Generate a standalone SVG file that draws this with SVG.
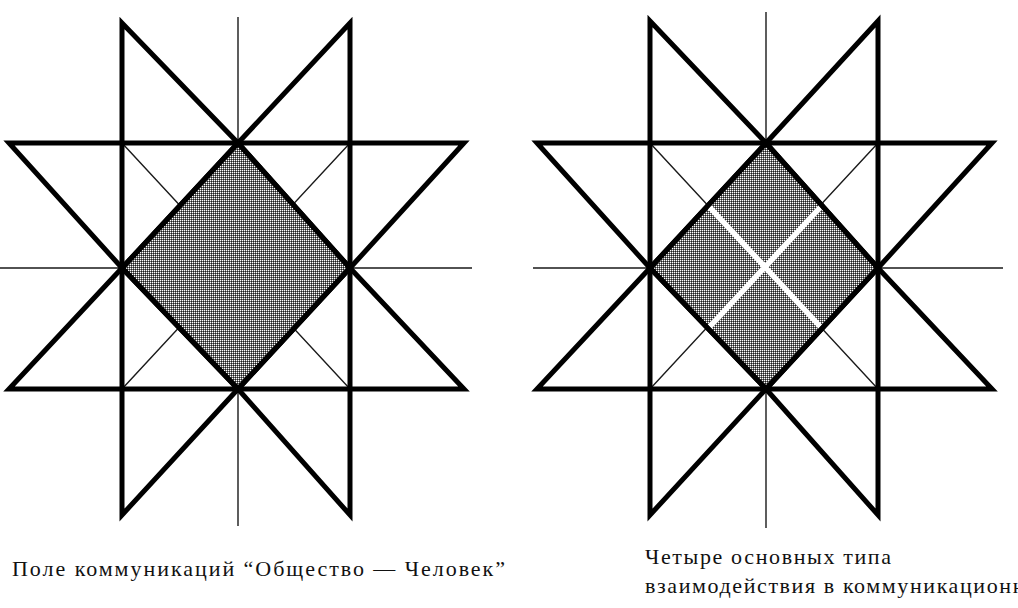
<svg xmlns="http://www.w3.org/2000/svg" width="1018" height="608" viewBox="0 0 1018 608">
<style>
.thin{fill:none;stroke:#1a1a1a;stroke-width:1.4}
.thick{fill:none;stroke:#000;stroke-width:5;stroke-linejoin:miter;stroke-miterlimit:10}
.fill{fill:url(#dither);stroke:none}
.cross{stroke:#fff;stroke-width:5.5;fill:none}
.cap{font-size:22px;fill:#111}
</style>
<defs>
<pattern id="dither" patternUnits="userSpaceOnUse" width="2" height="2">
<rect width="2" height="2" fill="#6e6e6e"/>
<rect width="1" height="1" fill="#fff"/>
<rect x="1" y="1" width="1" height="1" fill="#1e1e1e"/>
</pattern>
</defs>
<rect width="1018" height="608" fill="#fff"/>
<g id="field-left">
<path class="thin" d="M0,268 H472 M238,17 V526"/>
<path class="thin" d="M122,143 L350,389 M350,143 L122,389"/>
<path class="fill" d="M238,143 L350,268 L238,389 L122,268 Z"/>
<path class="thick" d="M9,143 L464,143 L350,268 L238,389 L122,268 Z"/>
<path class="thick" d="M9,389 L464,389 L350,268 L238,143 L122,268 Z"/>
<path class="thick" d="M122,23 L238,143 L350,268 L238,389 L122,515 Z"/>
<path class="thick" d="M350,23 L238,143 L122,268 L238,389 L350,515 Z"/>
</g>
<g id="field-right" transform="translate(528,0)">
<path class="thin" d="M5,268 H475 M238,12 V528"/>
<path class="thin" d="M122,143 L350,389 M350,143 L122,389"/>
<path class="fill" d="M238,143 L350,268 L238,389 L122,268 Z"/>
<path class="cross" d="M180,205.5 L294,328.5 M294,205.5 L180,328.5"/>
<path class="thick" d="M9,143 L464,143 L350,268 L238,389 L122,268 Z"/>
<path class="thick" d="M9,389 L464,389 L350,268 L238,143 L122,268 Z"/>
<path class="thick" d="M122,21 L238,143 L350,268 L238,389 L122,515 Z"/>
<path class="thick" d="M350,21 L238,143 L122,268 L238,389 L350,515 Z"/>
</g>
<g id="captions" font-family="'Liberation Serif', 'DejaVu Serif', serif">
<text class="cap" x="12" y="576" textLength="493" lengthAdjust="spacing">Поле коммуникаций “Общество — Человек”</text>
<text class="cap" x="645" y="564" textLength="246" lengthAdjust="spacing">Четыре основных типа</text>
<text class="cap" x="645" y="593" letter-spacing="1.6">взаимодействия в коммуникационн</text>
</g>
</svg>
